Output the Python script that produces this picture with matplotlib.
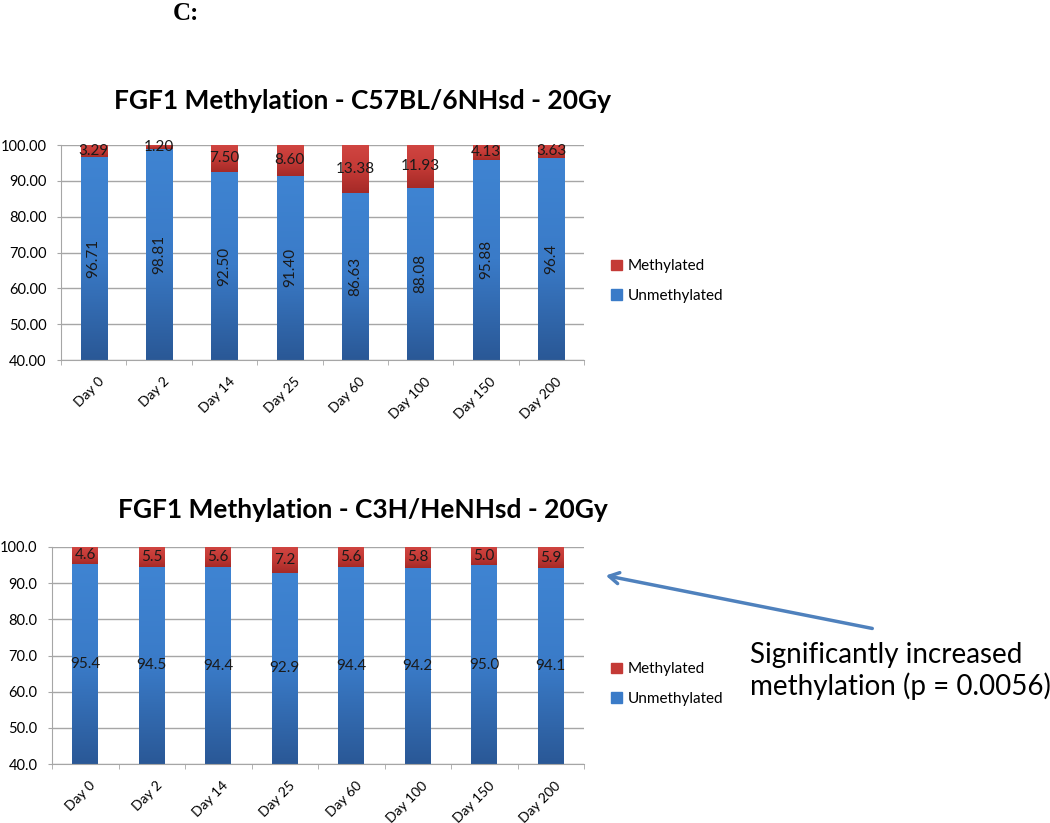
import matplotlib
matplotlib.use("Agg")
import matplotlib.pyplot as plt
from matplotlib.colors import LinearSegmentedColormap
from matplotlib.patches import FancyArrowPatch
from matplotlib.transforms import ScaledTranslation
import numpy as np

plt.rcParams['font.family'] = ['Lato', 'DejaVu Sans']

days = ["Day 0", "Day 2", "Day 14", "Day 25", "Day 60", "Day 100", "Day 150", "Day 200"]

# C57BL/6NHsd
b6_unmeth = [96.71, 98.81, 92.50, 91.40, 86.63, 88.08, 95.88, 96.4]
b6_meth = [3.29, 1.20, 7.50, 8.60, 13.38, 11.93, 4.13, 3.63]
b6_unmeth_lbl = ["96.71", "98.81", "92.50", "91.40", "86.63", "88.08", "95.88", "96.4"]
b6_meth_lbl = ["3.29", "1.20", "7.50", "8.60", "13.38", "11.93", "4.13", "3.63"]

# C3H/HeNHsd
c3h_unmeth = [95.4, 94.5, 94.4, 92.9, 94.4, 94.2, 95.0, 94.1]
c3h_meth = [4.6, 5.5, 5.6, 7.2, 5.6, 5.8, 5.0, 5.9]

W, H = 1050, 823
blue_cm = LinearSegmentedColormap.from_list("b", ["#2A5896", "#3A7BC8", "#3F84D2"])
red_cm = LinearSegmentedColormap.from_list("r", ["#A52A27", "#C43A36", "#D04541"])
grad = np.linspace(0, 1, 256).reshape(-1, 1)


def shade(ax, bars, cmap, ymin):
    for b in bars:
        x0, w = b.get_x(), b.get_width()
        y0 = max(b.get_y(), ymin)
        y1 = min(b.get_y() + b.get_height(), 100)
        im = ax.imshow(grad, cmap=cmap, origin="lower", aspect="auto",
                       extent=(x0, x0 + w, y0, y1), zorder=2)
        im.set_clip_path(b)


def chart(ax, unmeth, meth, un_lbl, me_lbl, fmt, rot_un, bw, title, title_y, leg_y):
    x = np.arange(len(days))
    b1 = ax.bar(x, unmeth, width=bw, color="#3A7BC8", zorder=2)
    b2 = ax.bar(x, meth, width=bw, bottom=unmeth, color="#C43A36", zorder=2)
    shade(ax, b1, blue_cm, 40)
    shade(ax, b2, red_cm, 40)
    ax.set_xlim(-0.5, len(days) - 0.5)
    ax.set_ylim(40, 100)
    ax.set_yticks(np.arange(40, 101, 10))
    ax.set_yticklabels([fmt % v for v in np.arange(40, 101, 10)])
    ax.yaxis.grid(True, color="#a6a6a6", lw=1.0)
    ax.set_axisbelow(True)
    for s in ["top", "right"]:
        ax.spines[s].set_visible(False)
    for s in ["left", "bottom"]:
        ax.spines[s].set_color("#a6a6a6")
    ax.tick_params(axis="y", length=3, color="#a6a6a6", labelsize=10.5, pad=7.5)
    ax.set_xticks(x)
    ax.set_xticklabels(days, rotation=45, ha="right", va="top",
                       rotation_mode="anchor", fontsize=10)
    ax.tick_params(axis="x", length=0, pad=11)
    shift = ScaledTranslation(4 / 100, 0, fig.dpi_scale_trans)
    for lab in ax.get_xticklabels():
        lab.set_transform(lab.get_transform() + shift)
    ax.set_xticks(np.arange(-0.5, len(days), 1), minor=True)
    ax.tick_params(axis="x", which="minor", length=3.75, color="#a6a6a6")
    for i in range(len(days)):
        ax.text(i, (40 + unmeth[i]) / 2, un_lbl[i], rotation=rot_un,
                ha="center", va="center", fontsize=11, color="#1a1a1a", zorder=4)
        ax.text(i, (unmeth[i] + 100) / 2, me_lbl[i], ha="center", va="center",
                fontsize=11, color="#1a1a1a", zorder=4)
    fig.text(363 / W, 1 - title_y / H, title, ha="center", va="center",
             fontsize=19, fontweight="bold")
    h = [plt.Rectangle((0, 0), 1, 1, color="#C43A36"), plt.Rectangle((0, 0), 1, 1, color="#3A7BC8")]
    ax.legend(h, ["Methylated", "Unmethylated"], loc="center left",
              bbox_to_anchor=(611 / W, 1 - leg_y / H), bbox_transform=fig.transFigure,
              frameon=False, fontsize=11, borderpad=0, borderaxespad=0,
              handlelength=0.7, handleheight=0.7, handletextpad=0.4, labelspacing=1.0)


fig = plt.figure(figsize=(10.5, 8.23), dpi=100)
fig.text(186 / W, 1 - 13 / H, "C:", family="Liberation Serif", fontweight="bold",
         fontsize=18, ha="center", va="center")

ax1 = fig.add_axes([61 / W, 1 - 360 / H, 523 / W, 215 / H])
chart(ax1, b6_unmeth, b6_meth, b6_unmeth_lbl, b6_meth_lbl, "%.2f", 90, 0.40,
      "FGF1 Methylation - C57BL/6NHsd - 20Gy", 101, 281)

ax2 = fig.add_axes([52 / W, 1 - 764 / H, 532 / W, 217 / H])
chart(ax2, c3h_unmeth, c3h_meth, ["%.1f" % v for v in c3h_unmeth],
      ["%.1f" % v for v in c3h_meth], "%.1f", 0, 0.39,
      "FGF1 Methylation - C3H/HeNHsd - 20Gy", 510, 684)

fig.text(750 / W, 1 - 671 / H, "Significantly increased\nmethylation (p = 0.0056)",
         fontsize=20, ha="left", va="center", linespacing=1.2)
arr = FancyArrowPatch((875 / W, 1 - 629 / H), (603 / W, 1 - 575 / H),
                      transform=fig.transFigure, arrowstyle="->,head_length=7,head_width=4",
                      color="#4F81BD", lw=2.5)
fig.add_artist(arr)

fig.savefig("out.png", dpi=100)
